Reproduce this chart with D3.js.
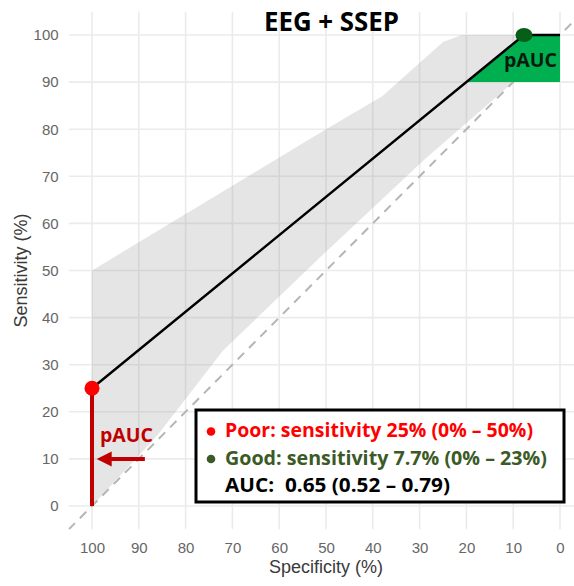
<!DOCTYPE html>
<html>
<head>
<meta charset="utf-8">
<script src="https://cdn.jsdelivr.net/npm/d3@7"></script>
<style>
  body { margin: 0; background: #fff; }
  svg { display: block; }
</style>
</head>
<body>
<script>
// Chart size matches the window.
var svg_width = 574;
var svg_height = 586;

// Tick values for both axes (percent).
var spec_ticks = [100, 90, 80, 70, 60, 50, 40, 30, 20, 10, 0];
var sens_ticks = [0, 10, 20, 30, 40, 50, 60, 70, 80, 90, 100];

// The ROC curve itself.
var roc_spec = [100, 7.7, 0];
var roc_sens = [25, 100, 100];

// Confidence band, upper and lower edges.
var upper_spec = [100, 50, 38, 25, 21, 0];
var upper_sens = [50, 80, 87, 98.5, 100, 100];
var lower_spec = [100, 86, 72, 50, 29, 10, 0];
var lower_sens = [0, 15, 33, 54, 73.5, 90, 100];

// Partial AUC region for "good" outcome (green).
var good_spec = [20, 7.7, 0, 0];
var good_sens = [90, 100, 100, 90];

// Operating points.
var poor_point = { spec: 100, sens: 25 };
var good_point = { spec: 7.7, sens: 100 };

// Red pAUC marker: vertical bar and arrow.
var poor_bar_sens = [25, 0];
var arrow_spec = [88.7, 99];
var arrow_sens = 10;

// Legend lines.
var legend_lines = [
    { text: "Poor: sensitivity 25% (0% \u2013 50%)", color: "#ff0000", bullet: "#ff0000" },
    { text: "Good: sensitivity 7.7% (0% \u2013 23%)", color: "#3b5a26", bullet: "#3b5a26" },
    { text: "AUC:  0.65 (0.52 \u2013 0.79)", color: "#000000", bullet: null }
];

var svg = d3.select("body")
    .append("svg")
    .attr("width", svg_width)
    .attr("height", svg_height);

// Scales: specificity runs right to left.
var x = d3.scaleLinear().domain([100, 0]).range([92, 560]);
var y = d3.scaleLinear().domain([0, 100]).range([506, 35]);

// Panel with 5% expansion like ggplot.
var px0 = x(105), px1 = x(-5);
var py0 = y(105), py1 = y(-5);

svg.append("clipPath").attr("id", "panel")
    .append("rect")
    .attr("x", px0).attr("y", py0)
    .attr("width", px1 - px0).attr("height", py1 - py0);

// Gridlines
var grid = svg.append("g").attr("clip-path", "url(#panel)");
grid.selectAll(".vgrid")
    .data(spec_ticks)
    .enter().append("line")
    .attr("x1", function(d) { return x(d); })
    .attr("x2", function(d) { return x(d); })
    .attr("y1", py0).attr("y2", py1)
    .attr("stroke", "#ebebeb")
    .attr("stroke-width", 1.6);
grid.selectAll(".hgrid")
    .data(sens_ticks)
    .enter().append("line")
    .attr("y1", function(d) { return y(d); })
    .attr("y2", function(d) { return y(d); })
    .attr("x1", px0).attr("x2", px1)
    .attr("stroke", "#ebebeb")
    .attr("stroke-width", 1.6);

var plot = svg.append("g").attr("clip-path", "url(#panel)");

// Confidence band polygon: upper edge then lower edge reversed.
var band_pts = upper_spec.map(function(s, i) { return [s, upper_sens[i]]; });
var lower_pts = lower_spec.map(function(s, i) { return [s, lower_sens[i]]; }).reverse();
band_pts = band_pts.concat(lower_pts);

var area_line = d3.line()
    .x(function(d) { return x(d[0]); })
    .y(function(d) { return y(d[1]); });

plot.append("path")
    .attr("d", area_line(band_pts) + "Z")
    .attr("fill", "#7f7f7f")
    .attr("fill-opacity", 0.2);

// Chance diagonal
plot.append("line")
    .attr("x1", x(105)).attr("y1", y(-5))
    .attr("x2", x(-5)).attr("y2", y(105))
    .attr("stroke", "#b5b5b5")
    .attr("stroke-width", 2)
    .attr("stroke-dasharray", "9,7");

// Green pAUC region
var good_pts = good_spec.map(function(s, i) { return [s, good_sens[i]]; });
plot.append("path")
    .attr("d", area_line(good_pts) + "Z")
    .attr("fill", "#00b050");

// ROC line
var roc_pts = roc_spec.map(function(s, i) { return [s, roc_sens[i]]; });
plot.append("path")
    .attr("d", area_line(roc_pts))
    .attr("fill", "none")
    .attr("stroke", "#000")
    .attr("stroke-width", 2.4);

// Red vertical pAUC bar
svg.append("line")
    .attr("x1", x(poor_point.spec)).attr("x2", x(poor_point.spec))
    .attr("y1", y(poor_bar_sens[0])).attr("y2", y(poor_bar_sens[1]))
    .attr("stroke", "#c00000")
    .attr("stroke-width", 4);

// Arrow pointing to the bar
svg.append("line")
    .attr("x1", x(arrow_spec[0])).attr("x2", x(arrow_spec[1]) + 12)
    .attr("y1", y(arrow_sens)).attr("y2", y(arrow_sens))
    .attr("stroke", "#c00000")
    .attr("stroke-width", 4);
svg.append("path")
    .attr("d", "M" + x(arrow_spec[1]) + "," + y(arrow_sens) +
        "l15,-7.5l0,15Z")
    .attr("fill", "#c00000");

// Operating points
svg.append("circle")
    .attr("cx", x(poor_point.spec)).attr("cy", y(poor_point.sens))
    .attr("r", 7.5)
    .attr("fill", "#ff0000");
svg.append("ellipse")
    .attr("cx", x(good_point.spec)).attr("cy", y(good_point.sens))
    .attr("rx", 8.5).attr("ry", 7)
    .attr("fill", "#075e17");

// Fit a text node to a target width
function fit(sel, w) {
    var len = sel.node().getComputedTextLength();
    if (len > 0) {
        sel.attr("textLength", w).attr("lengthAdjust", "spacingAndGlyphs");
    }
    return sel;
}

// pAUC labels
fit(svg.append("text")
    .attr("x", 100).attr("y", 442)
    .attr("font-family", "Open Sans, sans-serif")
    .attr("font-weight", "bold")
    .attr("font-size", 20)
    .attr("fill", "#c00000")
    .text("pAUC"), 53);
fit(svg.append("text")
    .attr("x", 504).attr("y", 67)
    .attr("font-family", "Open Sans, sans-serif")
    .attr("font-weight", "bold")
    .attr("font-size", 20)
    .attr("fill", "#0b1a0e")
    .text("pAUC"), 53);

// Axis tick labels
var x_axis = d3.axisBottom(x).tickValues(spec_ticks).tickSize(0).tickPadding(12.5);
var gx = svg.append("g")
    .attr("transform", "translate(0," + py1 + ")")
    .call(x_axis);
gx.select(".domain").remove();
gx.selectAll("text")
    .attr("font-family", "Liberation Sans, Arial, sans-serif")
    .attr("font-size", 15)
    .attr("fill", "#666");

var y_axis = d3.axisLeft(y).tickValues(sens_ticks).tickSize(0).tickPadding(10);
var gy = svg.append("g")
    .attr("transform", "translate(" + px0 + ",0)")
    .call(y_axis);
gy.select(".domain").remove();
gy.selectAll("text")
    .attr("font-family", "Liberation Sans, Arial, sans-serif")
    .attr("font-size", 15)
    .attr("fill", "#666");

// Axis titles
svg.append("text")
    .attr("transform", "translate(27," + ((py0 + py1) / 2) + ") rotate(-90)")
    .attr("text-anchor", "middle")
    .attr("font-family", "Liberation Sans, Arial, sans-serif")
    .attr("font-size", 18)
    .attr("fill", "#3a3a3a")
    .text("Sensitivity (%)");
svg.append("text")
    .attr("x", (x(100) + x(0)) / 2).attr("y", 573)
    .attr("text-anchor", "middle")
    .attr("font-family", "Liberation Sans, Arial, sans-serif")
    .attr("font-size", 18)
    .attr("fill", "#3a3a3a")
    .text("Specificity (%)");

// Title
fit(svg.append("text")
    .attr("x", 264).attr("y", 31)
    .attr("font-family", "Open Sans, sans-serif")
    .attr("font-weight", "bold")
    .attr("font-size", 27)
    .attr("fill", "#000")
    .text("EEG + SSEP"), 135);

// Legend box
var legend = svg.append("g");
legend.append("rect")
    .attr("x", 196).attr("y", 410)
    .attr("width", 368).attr("height", 92)
    .attr("fill", "#fff")
    .attr("stroke", "#000")
    .attr("stroke-width", 3);

var line_widths = [308, 322, 225];
legend_lines.forEach(function(l, i) {
    var base = 437 + i * 27.5;
    if (l.bullet) {
        legend.append("circle")
            .attr("cx", 211).attr("cy", base - 5.5)
            .attr("r", 4.3)
            .attr("fill", l.bullet);
    }
    fit(legend.append("text")
        .attr("x", 225).attr("y", base)
        .attr("font-family", "Open Sans, sans-serif")
        .attr("font-weight", "bold")
        .attr("font-size", 19)
        .attr("fill", l.color)
        .attr("xml:space", "preserve")
        .style("white-space", "pre")
        .text(l.text), line_widths[i]);
});
</script>
</body>
</html>
